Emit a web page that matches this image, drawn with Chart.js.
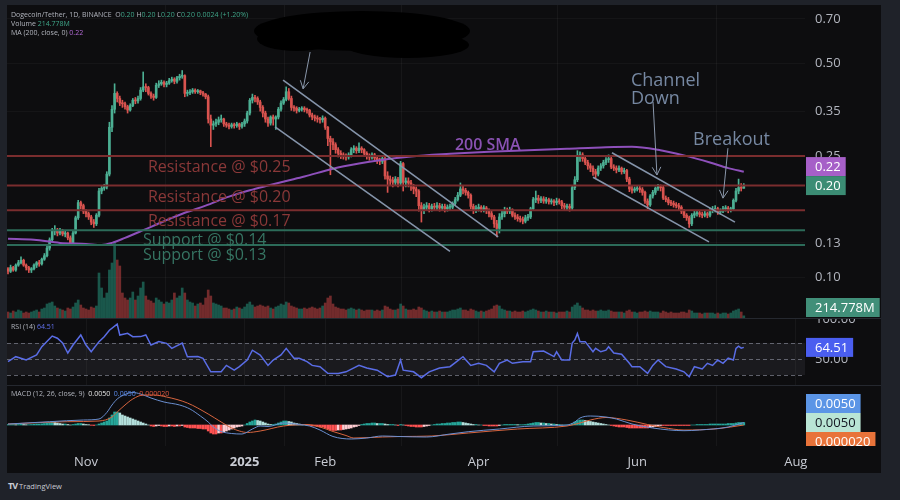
<!DOCTYPE html>
<html>
<head>
<meta charset="utf-8">
<script src="https://cdn.jsdelivr.net/npm/chart.js@4.4.1/dist/chart.umd.min.js"></script>
<style>
html,body{margin:0;padding:0;width:900px;height:500px;overflow:hidden;background:#1f2229;font-family:"Open Sans",Roboto,sans-serif}
#panel{position:absolute;left:7px;top:5px;width:874px;height:468px;background:#0d0d0f}
canvas{position:absolute;left:7px}
#c1{top:5px}#c2{top:318px}#c3{top:385px}
.sep{position:absolute;left:7px;width:874px;height:1px;background:#25282f;z-index:5}
.lg{position:absolute;left:11px;font-size:7px;color:#b2b5be;white-space:pre;line-height:9px;z-index:6}
.g{color:#3fa588}.p{color:#b36ad6}.b{color:#6272f0}.w{color:#e6e6e6}.r{color:#e0573f}.bl{color:#5b8def}
#tv{position:absolute;left:8px;top:479px;font-size:7.5px;color:#c9ccd4;white-space:pre}
#tv b{font-size:9px;letter-spacing:-1px}
</style>
</head>
<body>
<div id="panel"></div>
<canvas id="c1" width="874" height="313"></canvas>
<canvas id="c2" width="874" height="67"></canvas>
<canvas id="c3" width="874" height="88"></canvas>
<div class="sep" style="top:318px"></div>
<div class="sep" style="top:385px"></div>
<div class="lg" style="top:10px" id="lg1"></div>
<div class="lg" style="top:19px" id="lg2"></div>
<div class="lg" style="top:28px" id="lg3"></div>
<div class="lg" style="top:322px" id="lg4"></div>
<div class="lg" style="top:389px" id="lg5"></div>
<div id="tv"><b>TV</b> TradingView</div>
<script>
const FONT = "'Open Sans', 'DejaVu Sans', sans-serif";

// ---------------- DATA (daily, index 0 = 2 Oct 2024) ----------------
const firstOpen = 0.107;
const closes = [
0.105,0.108,0.106,0.110,0.112,0.114,0.110,0.108,0.106,0.107,
0.110,0.112,0.111,0.115,0.118,0.125,0.133,0.142,0.143,0.140,
0.142,0.139,0.140,0.135,0.130,0.140,0.157,0.176,0.172,0.165,
0.162,0.158,0.152,0.150,0.160,0.192,0.196,0.198,0.218,0.310,
0.355,0.400,0.385,0.372,0.370,0.362,0.353,0.365,0.380,0.378,
0.385,0.410,0.420,0.418,0.400,0.392,0.388,0.425,0.430,0.435,
0.428,0.432,0.440,0.445,0.438,0.450,0.455,0.457,0.400,0.402,
0.405,0.410,0.405,0.408,0.402,0.398,0.390,0.330,0.315,0.318,
0.322,0.328,0.330,0.318,0.315,0.312,0.316,0.314,0.318,0.312,
0.318,0.325,0.345,0.380,0.388,0.385,0.375,0.360,0.345,0.330,
0.320,0.335,0.330,0.335,0.355,0.372,0.382,0.405,0.385,0.360,
0.358,0.352,0.355,0.358,0.354,0.352,0.340,0.335,0.332,0.330,
0.328,0.332,0.310,0.285,0.278,0.272,0.262,0.255,0.252,0.250,
0.248,0.252,0.262,0.265,0.260,0.265,0.262,0.255,0.250,0.248,
0.252,0.246,0.242,0.240,0.245,0.215,0.210,0.208,0.205,0.210,
0.204,0.236,0.205,0.207,0.204,0.198,0.195,0.192,0.172,0.166,
0.170,0.172,0.168,0.171,0.170,0.172,0.169,0.171,0.168,0.170,
0.170,0.175,0.180,0.186,0.195,0.193,0.190,0.186,0.171,0.166,
0.168,0.170,0.167,0.169,0.166,0.162,0.158,0.150,0.145,0.158,
0.162,0.166,0.165,0.167,0.160,0.158,0.156,0.155,0.153,0.157,
0.158,0.168,0.180,0.182,0.179,0.181,0.178,0.180,0.177,0.178,
0.176,0.178,0.177,0.172,0.170,0.171,0.169,0.197,0.209,0.250,
0.252,0.245,0.238,0.232,0.228,0.222,0.218,0.228,0.232,0.238,
0.243,0.245,0.230,0.228,0.225,0.228,0.222,0.224,0.210,0.195,
0.193,0.195,0.196,0.194,0.190,0.178,0.173,0.185,0.190,0.196,
0.198,0.197,0.182,0.180,0.176,0.175,0.173,0.172,0.170,0.165,
0.160,0.157,0.150,0.160,0.162,0.163,0.161,0.160,0.162,0.160,
0.166,0.167,0.168,0.164,0.165,0.168,0.169,0.166,0.168,0.179,
0.192,0.197,0.196,0.200];
const highs = [
0.108,0.110,0.109,0.111,0.114,0.117,0.115,0.111,0.109,0.108,
0.111,0.113,0.114,0.116,0.120,0.127,0.135,0.145,0.148,0.145,
0.145,0.144,0.142,0.141,0.137,0.142,0.159,0.179,0.178,0.174,
0.167,0.164,0.160,0.155,0.162,0.196,0.200,0.202,0.222,0.322,
0.365,0.430,0.405,0.392,0.380,0.375,0.366,0.370,0.385,0.388,
0.392,0.418,0.470,0.430,0.422,0.405,0.398,0.432,0.440,0.442,
0.440,0.438,0.448,0.452,0.450,0.455,0.462,0.475,0.460,0.410,
0.412,0.415,0.414,0.412,0.410,0.406,0.400,0.395,0.340,0.325,
0.330,0.335,0.340,0.332,0.322,0.320,0.320,0.320,0.322,0.320,
0.322,0.330,0.350,0.385,0.398,0.394,0.390,0.380,0.365,0.350,
0.335,0.338,0.340,0.338,0.360,0.378,0.388,0.420,0.415,0.392,
0.365,0.362,0.360,0.362,0.362,0.358,0.355,0.345,0.340,0.338,
0.334,0.338,0.335,0.312,0.290,0.285,0.276,0.266,0.260,0.256,
0.254,0.256,0.266,0.270,0.268,0.276,0.268,0.264,0.258,0.254,
0.256,0.255,0.250,0.246,0.248,0.248,0.222,0.215,0.213,0.214,
0.213,0.240,0.238,0.212,0.212,0.208,0.202,0.198,0.194,0.176,
0.174,0.176,0.175,0.174,0.175,0.176,0.175,0.174,0.174,0.173,
0.174,0.177,0.183,0.190,0.204,0.200,0.196,0.192,0.188,0.174,
0.172,0.174,0.172,0.172,0.171,0.168,0.165,0.160,0.154,0.162,
0.166,0.170,0.169,0.170,0.168,0.163,0.161,0.159,0.158,0.160,
0.161,0.170,0.183,0.192,0.186,0.184,0.184,0.183,0.182,0.181,
0.180,0.182,0.181,0.179,0.175,0.174,0.174,0.199,0.214,0.260,
0.258,0.256,0.250,0.242,0.236,0.232,0.226,0.232,0.236,0.242,
0.247,0.252,0.248,0.234,0.232,0.232,0.230,0.228,0.226,0.213,
0.199,0.198,0.200,0.199,0.197,0.192,0.181,0.187,0.193,0.198,
0.202,0.201,0.199,0.185,0.183,0.179,0.178,0.176,0.175,0.172,
0.167,0.162,0.159,0.162,0.165,0.166,0.165,0.164,0.165,0.164,
0.169,0.171,0.172,0.170,0.168,0.171,0.172,0.171,0.170,0.181,
0.196,0.210,0.203,0.203];
const lows = [
0.103,0.104,0.105,0.105,0.109,0.111,0.109,0.106,0.104,0.104,
0.106,0.108,0.109,0.110,0.114,0.117,0.123,0.131,0.138,0.137,
0.138,0.137,0.136,0.133,0.128,0.129,0.139,0.155,0.168,0.162,
0.158,0.155,0.149,0.146,0.148,0.158,0.188,0.193,0.195,0.215,
0.300,0.345,0.375,0.365,0.360,0.355,0.345,0.350,0.362,0.370,
0.372,0.380,0.405,0.405,0.395,0.385,0.380,0.385,0.418,0.425,
0.420,0.420,0.428,0.435,0.430,0.432,0.442,0.448,0.390,0.392,
0.396,0.400,0.400,0.400,0.396,0.392,0.384,0.320,0.268,0.305,
0.312,0.316,0.322,0.312,0.310,0.306,0.308,0.308,0.310,0.305,
0.308,0.312,0.320,0.340,0.372,0.375,0.368,0.350,0.335,0.322,
0.312,0.315,0.315,0.305,0.330,0.350,0.368,0.378,0.380,0.352,
0.350,0.345,0.348,0.350,0.348,0.345,0.335,0.328,0.325,0.322,
0.320,0.322,0.305,0.270,0.217,0.262,0.255,0.248,0.245,0.244,
0.242,0.244,0.248,0.256,0.255,0.256,0.256,0.250,0.244,0.242,
0.244,0.240,0.236,0.234,0.236,0.210,0.190,0.200,0.198,0.200,
0.198,0.200,0.192,0.198,0.198,0.193,0.188,0.184,0.165,0.152,
0.162,0.166,0.164,0.165,0.166,0.167,0.165,0.166,0.164,0.165,
0.166,0.168,0.173,0.178,0.184,0.188,0.186,0.182,0.168,0.162,
0.163,0.165,0.164,0.164,0.162,0.158,0.155,0.146,0.136,0.140,
0.155,0.158,0.162,0.162,0.158,0.155,0.153,0.152,0.150,0.151,
0.154,0.156,0.166,0.176,0.175,0.176,0.175,0.175,0.174,0.174,
0.172,0.173,0.174,0.168,0.166,0.167,0.165,0.167,0.194,0.206,
0.240,0.240,0.234,0.226,0.222,0.216,0.212,0.215,0.224,0.228,
0.234,0.238,0.227,0.224,0.220,0.222,0.218,0.219,0.206,0.191,
0.189,0.190,0.192,0.190,0.186,0.175,0.168,0.171,0.182,0.187,
0.193,0.192,0.180,0.177,0.173,0.172,0.170,0.169,0.166,0.162,
0.157,0.154,0.146,0.148,0.157,0.159,0.158,0.157,0.158,0.157,
0.158,0.163,0.164,0.161,0.161,0.163,0.165,0.163,0.164,0.166,
0.177,0.188,0.192,0.196];
// volume in millions of DOGE
const volumes = [
600,500,700,600,800,700,500,600,500,600,
700,800,600,900,1000,1400,1500,1600,1200,1000,
900,800,700,1000,900,1100,1500,1800,1300,1000,
900,800,1100,1000,1200,4500,3000,2000,2500,4800,
5500,7600,5800,5200,2500,2000,1800,2000,2600,1800,
2200,3000,3600,2200,1800,1700,1500,2000,1800,1600,
1400,1600,1500,1800,2500,2000,2200,3000,2500,1800,
1600,1500,1200,1400,1500,1300,2000,2800,2200,1500,
1400,1300,1200,1000,1000,900,800,900,1100,1000,
900,1100,1400,1600,1300,1100,1200,1300,1200,1100,
1200,1000,900,1100,1200,1400,1300,1600,1500,1200,
1100,1000,900,900,1000,900,1000,1100,1000,900,
1000,1200,1500,2000,2200,1400,1100,1000,900,900,
800,900,1000,900,800,900,800,700,800,800,
800,700,800,700,800,1200,1100,900,800,800,
900,1400,1200,900,800,800,900,800,1100,1000,
800,700,600,700,600,600,700,600,600,600,
700,800,800,900,1000,800,800,700,900,800,
700,600,700,600,700,800,900,1200,1300,1200,
900,800,700,700,600,700,600,600,700,600,
700,800,900,800,700,600,600,700,600,600,
600,500,600,600,600,700,600,1100,1300,1500,
1200,1000,800,800,700,800,700,700,800,700,
700,800,700,600,600,600,600,500,700,800,
600,600,500,600,600,700,600,700,600,600,
600,500,700,600,500,600,500,500,500,600,
600,500,800,700,500,500,500,400,500,500,
500,500,400,500,400,500,500,400,500,700,
800,900,600,214.778];
// 200-day SMA: [day index, value]
const smaPoints = [[0,0.134],[10,0.133],[20,0.130],[30,0.129],[36,0.128],[40,0.130],[45,0.135],[52,0.143],[60,0.153],[68,0.163],[76,0.172],[85,0.184],[93,0.193],[100,0.200],[107,0.207],[114,0.214],[125,0.227],[135,0.236],[143,0.242],[155,0.249],[170,0.254],[185,0.258],[200,0.261],[215,0.264],[230,0.267],[240,0.268],[250,0.262],[260,0.251],[270,0.238],[277,0.228],[283,0.222]];
// RSI(14): [day index, value]
const rsiPoints = [[0,46.7],[3,52.9],[7,48.7],[11,55],[13,65.4],[17,78.7],[19,76],[21,70],[23,57.5],[25,67.5],[28,80],[30,67.5],[32,59],[35,71.7],[37,77.9],[39,86],[42,93.7],[43,80],[46,82.1],[48,77.9],[51,78],[53,80],[55,67.5],[58,71.7],[61,69.6],[63,63.3],[67,70],[69,52.9],[73,53],[75,50.8],[78,34],[82,34],[84,42],[87,36],[89,40.4],[92,48.7],[94,61],[97,55],[100,42],[102,48.7],[105,55],[107,63.3],[110,51],[112,51],[115,46.7],[117,42],[120,40.4],[123,32.1],[127,32],[130,34],[135,42],[138,38.7],[142,36],[146,27.9],[149,30],[151,48.7],[152,36],[156,34],[159,26.6],[162,34],[166,38.7],[170,40.4],[175,52.9],[178,42],[181,44.6],[184,42],[187,34],[189,44.6],[192,48.7],[194,44.6],[198,46.7],[201,46.7],[202,59],[206,60],[210,53],[211,59],[213,48.7],[216,48.7],[217,70],[218,73.7],[219,82],[220,71.7],[222,71.7],[225,59],[226,63.3],[228,59],[230,61],[231,65.4],[233,57.5],[236,56],[239,44.6],[240,40.4],[243,40.4],[246,32],[248,42],[250,48.7],[253,40.4],[257,37.5],[260,34],[262,27.9],[264,40.4],[267,37.5],[269,44.6],[271,42],[273,48.7],[275,44.6],[277,51],[279,48.7],[280,63.3],[281,66],[282,63.5],[283,64.51]];
const rsiLevels = [70,50,30];
// MACD (12,26,9)
const macdPoints = [[0,0.002],[16,0.0066],[29,0.010],[35,0.012],[38,0.025],[40,0.040],[42,0.052],[45,0.061],[48,0.065],[51,0.062],[55,0.054],[60,0.046],[66,0.040],[70,0.032],[74,0.018],[77,0.006],[79,-0.004],[82,-0.013],[86,-0.017],[90,-0.018],[94,-0.008],[97,-0.002],[100,-0.003],[106,0.004],[112,0.001],[116,-0.002],[120,-0.010],[125,-0.023],[132,-0.028],[138,-0.026],[144,-0.022],[150,-0.023],[161,-0.024],[170,-0.018],[177,-0.0134],[189,-0.008],[202,-0.002],[215,0],[218,0.006],[220,0.014],[224,0.018],[230,0.016],[234,0.012],[240,0.002],[248,-0.006],[260,-0.0114],[266,-0.010],[277,-0.004],[283,0.005]];
const signalPoints = [[0,0.002],[23,0.0066],[35,0.008],[40,0.016],[42,0.026],[45,0.040],[48,0.052],[52,0.060],[56,0.060],[61,0.056],[69,0.044],[77,0.022],[82,0.006],[86,-0.006],[89,-0.012],[92,-0.015],[97,-0.012],[106,-0.002],[115,0.001],[120,-0.004],[125,-0.013],[130,-0.021],[133,-0.026],[144,-0.024],[151,-0.023],[163,-0.022],[177,-0.016],[196,-0.008],[215,-0.002],[220,0.004],[224,0.010],[230,0.015],[238,0.010],[246,0.001],[252,-0.005],[260,-0.010],[273,-0.0074],[283,0.00002]];
const histogram = [
0.001,0.001,0.001,0.0006,0.001,0.0016,0.001,0.0006,0.0006,0.001,
0.0016,0.002,0.002,0.0024,0.003,0.004,0.005,0.006,0.005,0.004,
0.003,0.002,0.002,0.001,0,0.001,0.002,0.003,0.003,0.002,
0.001,0.0006,-0.0006,-0.001,0,0.002,0.004,0.006,0.008,0.014,
0.020,0.026,0.026,0.024,0.020,0.018,0.016,0.014,0.012,0.010,
0.008,0.006,0.004,0.002,0,-0.002,-0.003,-0.002,-0.001,-0.002,
-0.003,-0.003,-0.002,-0.002,-0.003,-0.002,-0.002,-0.001,-0.004,-0.005,
-0.006,-0.006,-0.006,-0.007,-0.007,-0.008,-0.008,-0.012,-0.016,-0.018,
-0.018,-0.016,-0.016,-0.014,-0.012,-0.010,-0.008,-0.006,-0.004,-0.003,
-0.002,0,0.003,0.006,0.008,0.010,0.009,0.008,0.006,0.004,
0.002,0.001,0.001,0.002,0.004,0.006,0.008,0.008,0.007,0.006,
0.004,0.003,0.002,0.001,0.001,0,-0.001,-0.002,-0.002,-0.003,
-0.004,-0.004,-0.006,-0.008,-0.010,-0.011,-0.011,-0.010,-0.010,-0.009,
-0.008,-0.007,-0.006,-0.004,-0.003,-0.001,0.001,0.002,0.003,0.003,
0.004,0.004,0.003,0.003,0.003,0.002,0.001,0.001,0.001,0,
-0.001,0.001,0,-0.001,-0.002,-0.003,-0.003,-0.004,-0.004,-0.004,
-0.003,-0.002,-0.001,0,0.001,0.002,0.002,0.003,0.003,0.004,
0.004,0.005,0.005,0.006,0.006,0.005,0.004,0.003,0.002,0.001,
0.001,0,0,-0.001,-0.001,-0.002,-0.002,-0.002,-0.002,-0.001,
0,0.001,0.001,0.001,0.001,0.001,0.0006,0.0006,0.0006,0.001,
0.002,0.003,0.004,0.005,0.005,0.004,0.004,0.003,0.003,0.002,
0.002,0.001,0.001,0,0,0,0,0.003,0.006,0.009,
0.010,0.010,0.009,0.008,0.007,0.006,0.005,0.004,0.003,0.002,
0.001,0,-0.001,-0.002,-0.003,-0.004,-0.004,-0.004,-0.005,-0.006,
-0.006,-0.006,-0.006,-0.006,-0.006,-0.006,-0.006,-0.005,-0.004,-0.003,
-0.002,-0.001,-0.001,-0.001,-0.001,-0.001,-0.001,-0.001,-0.001,-0.001,
-0.001,-0.001,-0.001,0,0,0.001,0.001,0.001,0.001,0.001,
0.002,0.002,0.002,0.002,0.002,0.002,0.002,0.003,0.003,0.003,
0.004,0.005,0.005,0.005];
// axes
const priceTicks = [0.10,0.13,0.25,0.35,0.50,0.70];
const monthTicks = [30,91,122,181,242,303];
const monthLabels = ['Nov','2025','Feb','Apr','Jun','Aug'];
// drawings
const resistanceLevels = [0.25,0.20,0.166];
const resistanceLabels = ['Resistance @ $0.25','Resistance @ $0.20','Resistance @ $0.17'];
const supportLevels = [0.143,0.128];
const supportLabels = ['Support @ $0.14','Support @ $0.13'];
const channelLines = [[105.8,0.442,188.5,0.136],[102.7,0.311,170,0.122],[232.3,0.256,279.6,0.152],[225,0.213,269.6,0.131]];
const arrowLines = [[116.2,0.546,113.5,0.414],[248.1,0.375,249.6,0.2166],[276.9,0.265,275,0.182]];
const noteTexts = ['Channel','Down','Breakout','200 SMA'];
const noteDays = [239.6,239.6,263.5,171.9];
const notePrices = [0.423,0.369,0.271,0.261];

// ---------------- helpers ----------------
const XMIN = -0.385, XMAX = 306.54;
const N = closes.length;
const opens = closes.map((c,i)=> i===0 ? firstOpen : closes[i-1]); // 24/7 market: open = prior close
const up = closes.map((c,i)=> c >= opens[i]);
const UP='#4caf93', DN='#d9534f';
const last = N-1;
const lastClose = closes[last], lastSMA = smaPoints[smaPoints.length-1][1];
const lastRSI = rsiPoints[rsiPoints.length-1][1];
const lastMACD = macdPoints[macdPoints.length-1][1], lastSignal = signalPoints[signalPoints.length-1][1], lastHist = histogram[last];

document.getElementById('lg1').innerHTML = `Dogecoin/Tether, 1D, BINANCE  O<span class="g">${opens[last].toFixed(2)}</span> H<span class="g">${highs[last].toFixed(2)}</span> L<span class="g">${lows[last].toFixed(2)}</span> C<span class="g">${lastClose.toFixed(2)}</span> <span class="g">0.0024 (+1.20%)</span>`;
document.getElementById('lg2').innerHTML = `Volume <span class="g">${volumes[last].toFixed(3)}M</span>`;
document.getElementById('lg3').innerHTML = `MA (200, close, 0) <span class="p">${lastSMA.toFixed(2)}</span>`;
document.getElementById('lg4').innerHTML = `RSI (14) <span class="b">${lastRSI.toFixed(2)}</span>`;
document.getElementById('lg5').innerHTML = `MACD (12, 26, close, 9)  <span class="w">${lastHist.toFixed(4)}</span>  <span class="bl">${lastMACD.toFixed(4)}</span>  <span class="r">${lastSignal.toFixed(6)}</span>`;

function xAxis(showLabels){
  return {
    type:'linear', min:XMIN, max:XMAX, bounds:'data', offset:false,
    afterBuildTicks: s => { s.ticks = monthTicks.map(v=>({value:v})); },
    grid:{color:'rgba(255,255,255,0.045)', drawTicks:false},
    border:{display:false},
    ticks:{display:showLabels, autoSkip:false, maxRotation:0, padding:8, color:'#c9ccd4',
      font: c => ({family:FONT, size:13, weight: (c.tick && c.tick.value===91) ? 'bold' : 'normal'}),
      callback: v => { const k = monthTicks.indexOf(v); return k>=0 ? monthLabels[k] : ''; }},
    afterFit: s => { s.height = showLabels ? 27 : 0; s.paddingLeft = 0; s.paddingRight = 0; }
  };
}
function fixY(s){ s.width = 76; s.paddingTop = 0; s.paddingBottom = 0; }

function box(ctx, area, top, text, bg, fg){
  ctx.save();
  ctx.font = `13px ${FONT}`;
  const w = ctx.measureText(text).width;
  ctx.fillStyle = bg;
  ctx.fillRect(area.right+1, top, w+14, 19);
  ctx.fillStyle = fg; ctx.textBaseline = 'middle'; ctx.textAlign='left';
  ctx.fillText(text, area.right+10, top+10);
  ctx.restore();
}
function arrowHead(ctx, x1,y1,x2,y2){
  const a = Math.atan2(y2-y1, x2-x1), L = 9;
  ctx.beginPath();
  ctx.moveTo(x2 - L*Math.cos(a-0.5), y2 - L*Math.sin(a-0.5));
  ctx.lineTo(x2,y2);
  ctx.lineTo(x2 - L*Math.cos(a+0.5), y2 - L*Math.sin(a+0.5));
  ctx.stroke();
}

// ---------------- price chart ----------------
const drawings = {
  id:'drawings',
  afterDatasetsDraw(chart){
    const {ctx, chartArea:a, scales:{x,y}} = chart;
    ctx.save();
    ctx.beginPath(); ctx.rect(a.left, a.top, a.right-a.left, a.bottom-a.top); ctx.clip();
    ctx.lineWidth = 2;
    resistanceLevels.forEach(v=>{ const py=y.getPixelForValue(v); ctx.strokeStyle='#7a2d2e'; ctx.beginPath(); ctx.moveTo(a.left,py); ctx.lineTo(a.right,py); ctx.stroke(); });
    supportLevels.forEach(v=>{ const py=y.getPixelForValue(v); ctx.strokeStyle='#2c6b59'; ctx.beginPath(); ctx.moveTo(a.left,py); ctx.lineTo(a.right,py); ctx.stroke(); });
    ctx.font = `16px ${FONT}`; ctx.textBaseline='alphabetic';
    ctx.fillStyle = '#8a3838';
    resistanceLevels.forEach((v,k)=> ctx.fillText(resistanceLabels[k], x.getPixelForValue(53.8), y.getPixelForValue(v)+16));
    ctx.fillStyle = '#367563';
    supportLevels.forEach((v,k)=> ctx.fillText(supportLabels[k], x.getPixelForValue(51.9), y.getPixelForValue(v)+15));
    ctx.strokeStyle = '#8594aa'; ctx.lineWidth = 1.6;
    channelLines.forEach(c=>{ ctx.beginPath(); ctx.moveTo(x.getPixelForValue(c[0]), y.getPixelForValue(c[1])); ctx.lineTo(x.getPixelForValue(c[2]), y.getPixelForValue(c[3])); ctx.stroke(); });
    ctx.lineWidth = 1;
    ctx.strokeStyle = '#8a97ab';
    arrowLines.forEach(c=>{
      const x1=x.getPixelForValue(c[0]), y1=y.getPixelForValue(c[1]), x2=x.getPixelForValue(c[2]), y2=y.getPixelForValue(c[3]);
      ctx.beginPath(); ctx.moveTo(x1,y1); ctx.lineTo(x2,y2); ctx.stroke(); arrowHead(ctx,x1,y1,x2,y2);
    });
    noteTexts.forEach((t,k)=>{
      const isSma = t==='200 SMA';
      ctx.font = isSma ? `600 16px ${FONT}` : `18px ${FONT}`;
      ctx.fillStyle = isSma ? '#8a52b3' : '#7688a2';
      ctx.fillText(t, x.getPixelForValue(noteDays[k]), y.getPixelForValue(notePrices[k]));
    });
    // redaction scribble
    ctx.fillStyle = '#000';
    ctx.beginPath(); ctx.ellipse(355,26,108,20,0,0,Math.PI*2); ctx.fill();
    ctx.beginPath(); ctx.ellipse(400,40,62,13,0,0,Math.PI*2); ctx.fill();
    ctx.beginPath(); ctx.ellipse(290,34,40,12,0,0,Math.PI*2); ctx.fill();
    ctx.restore();
  },
  afterDraw(chart){
    const {ctx, chartArea:a, scales:{y,v}} = chart;
    const h = 19;
    let cTop = y.getPixelForValue(lastClose) - h/2;
    let sTop = y.getPixelForValue(lastSMA) - h/2;
    if (sTop + h > cTop) sTop = cTop - h;
    box(ctx, a, sTop, lastSMA.toFixed(2), '#a65fc8', '#ffffff');
    box(ctx, a, cTop, lastClose.toFixed(2), '#3b8c74', '#ffffff');
    let vTop = Math.min(v.getPixelForValue(volumes[last]) - h/2, a.bottom - h - 1);
    box(ctx, a, vTop, volumes[last].toFixed(3)+'M', '#418f79', '#ffffff');
  }
};

new Chart(document.getElementById('c1'), {
  type:'bar',
  data:{datasets:[
    {type:'line', data:smaPoints.map(p=>({x:p[0],y:p[1]})), borderColor:'#8e50bb', borderWidth:2, pointRadius:0, cubicInterpolationMode:'monotone', yAxisID:'y', order:1},
    {data:closes.map((c,i)=>({x:i,y:[opens[i],c]})), backgroundColor:up.map(u=>u?UP:DN), barThickness:2, minBarLength:1, grouped:false, yAxisID:'y', order:2},
    {data:closes.map((c,i)=>({x:i,y:[lows[i],highs[i]]})), backgroundColor:up.map(u=>u?UP:DN), barThickness:1, grouped:false, yAxisID:'y', order:3},
    {data:volumes.map((vv,i)=>({x:i,y:vv})), backgroundColor:up.map(u=>u?'rgba(38,150,125,0.55)':'rgba(200,70,70,0.55)'), barThickness:2, grouped:false, yAxisID:'v', order:4}
  ]},
  options:{
    responsive:false, animation:false, devicePixelRatio:1,
    layout:{padding:0},
    plugins:{legend:{display:false}, tooltip:{enabled:false}},
    scales:{
      x: xAxis(false),
      y:{type:'logarithmic', position:'right', min:0.0739, max:0.7775, bounds:'data',
         afterBuildTicks: s => { s.ticks = priceTicks.map(v=>({value:v})); },
         afterFit: fixY,
         grid:{color:'rgba(255,255,255,0.035)', drawTicks:false}, border:{display:false},
         ticks:{color:'#b2b5be', font:{family:FONT,size:13}, padding:10, autoSkip:false, callback:v=>Number(v).toFixed(2)}},
      v:{type:'linear', display:false, min:0, max:31300}
    }
  },
  plugins:[drawings]
});

// ---------------- RSI ----------------
const rsiDecor = {
  id:'rsiDecor',
  beforeDatasetsDraw(chart){
    const {ctx, chartArea:a, scales:{y}} = chart;
    ctx.save();
    const t = y.getPixelForValue(rsiLevels[0]), b = y.getPixelForValue(rsiLevels[2]);
    ctx.fillStyle = 'rgba(150,152,165,0.10)';
    ctx.fillRect(a.left, t, a.right-a.left, b-t);
    ctx.strokeStyle = 'rgba(130,133,145,0.7)'; ctx.lineWidth = 1; ctx.setLineDash([4,3]);
    rsiLevels.forEach(v=>{ const py = Math.round(y.getPixelForValue(v))+0.5; ctx.beginPath(); ctx.moveTo(a.left,py); ctx.lineTo(a.right,py); ctx.stroke(); });
    ctx.restore();
  },
  afterDraw(chart){
    const {ctx, chartArea:a, scales:{y}} = chart;
    box(ctx, a, y.getPixelForValue(lastRSI)-9.5, lastRSI.toFixed(2), '#4a5ef0', '#ffffff');
  }
};
new Chart(document.getElementById('c2'), {
  type:'line',
  data:{datasets:[{data:rsiPoints.map(p=>({x:p[0],y:p[1]})), borderColor:'#5a6de6', borderWidth:1.5, pointRadius:0, tension:0}]},
  options:{
    responsive:false, animation:false, devicePixelRatio:1, layout:{padding:0},
    plugins:{legend:{display:false}, tooltip:{enabled:false}},
    scales:{
      x: xAxis(false),
      y:{type:'linear', position:'right', min:17.5, max:101.25, bounds:'data',
         afterBuildTicks: s => { s.ticks = [{value:50},{value:100}]; },
         afterFit: fixY,
         grid:{display:false, drawTicks:false}, border:{display:false},
         ticks:{color:'#b2b5be', font:{family:FONT,size:13}, padding:10, autoSkip:false, callback:v=>Number(v).toFixed(2)}}
    }
  },
  plugins:[rsiDecor]
});

// ---------------- MACD ----------------
const histColors = histogram.map((h,i)=>{ const p = i ? histogram[i-1] : 0; if (h >= 0) return h >= p ? '#26a69a' : '#b2dfdb'; return h <= p ? '#ff5252' : '#ffcdd2'; });
const macdBoxes = {
  id:'macdBoxes',
  afterDraw(chart){
    const {ctx, chartArea:a, scales:{y}} = chart;
    ctx.save();
    ctx.beginPath(); ctx.rect(a.right, 0, chart.width - a.right, a.bottom); ctx.clip();
    const mid = y.getPixelForValue(lastHist) - 9.5;
    box(ctx, a, mid - 19, lastMACD.toFixed(4), '#5b95e6', '#ffffff');
    box(ctx, a, mid, lastHist.toFixed(4), '#b9e5d5', '#131722');
    box(ctx, a, mid + 19, lastSignal.toFixed(6), '#e8733a', '#ffffff');
    ctx.restore();
  }
};
new Chart(document.getElementById('c3'), {
  type:'bar',
  data:{datasets:[
    {type:'line', data:macdPoints.map(p=>({x:p[0],y:p[1]})), borderColor:'#6b8fd0', borderWidth:1, pointRadius:0, cubicInterpolationMode:'monotone', order:1},
    {type:'line', data:signalPoints.map(p=>({x:p[0],y:p[1]})), borderColor:'#d8653f', borderWidth:1, pointRadius:0, cubicInterpolationMode:'monotone', order:2},
    {data:histogram.map((h,i)=>({x:i,y:h})), backgroundColor:histColors, barThickness:2, grouped:false, order:3}
  ]},
  options:{
    responsive:false, animation:false, devicePixelRatio:1, layout:{padding:0},
    plugins:{legend:{display:false}, tooltip:{enabled:false}},
    scales:{
      x: xAxis(true),
      y:{type:'linear', position:'right', min:-0.042, max:0.08, bounds:'data',
         afterFit: fixY,
         grid:{display:false, drawTicks:false}, border:{display:false},
         ticks:{display:false}}
    }
  },
  plugins:[macdBoxes]
});
</script>
</body>
</html>
